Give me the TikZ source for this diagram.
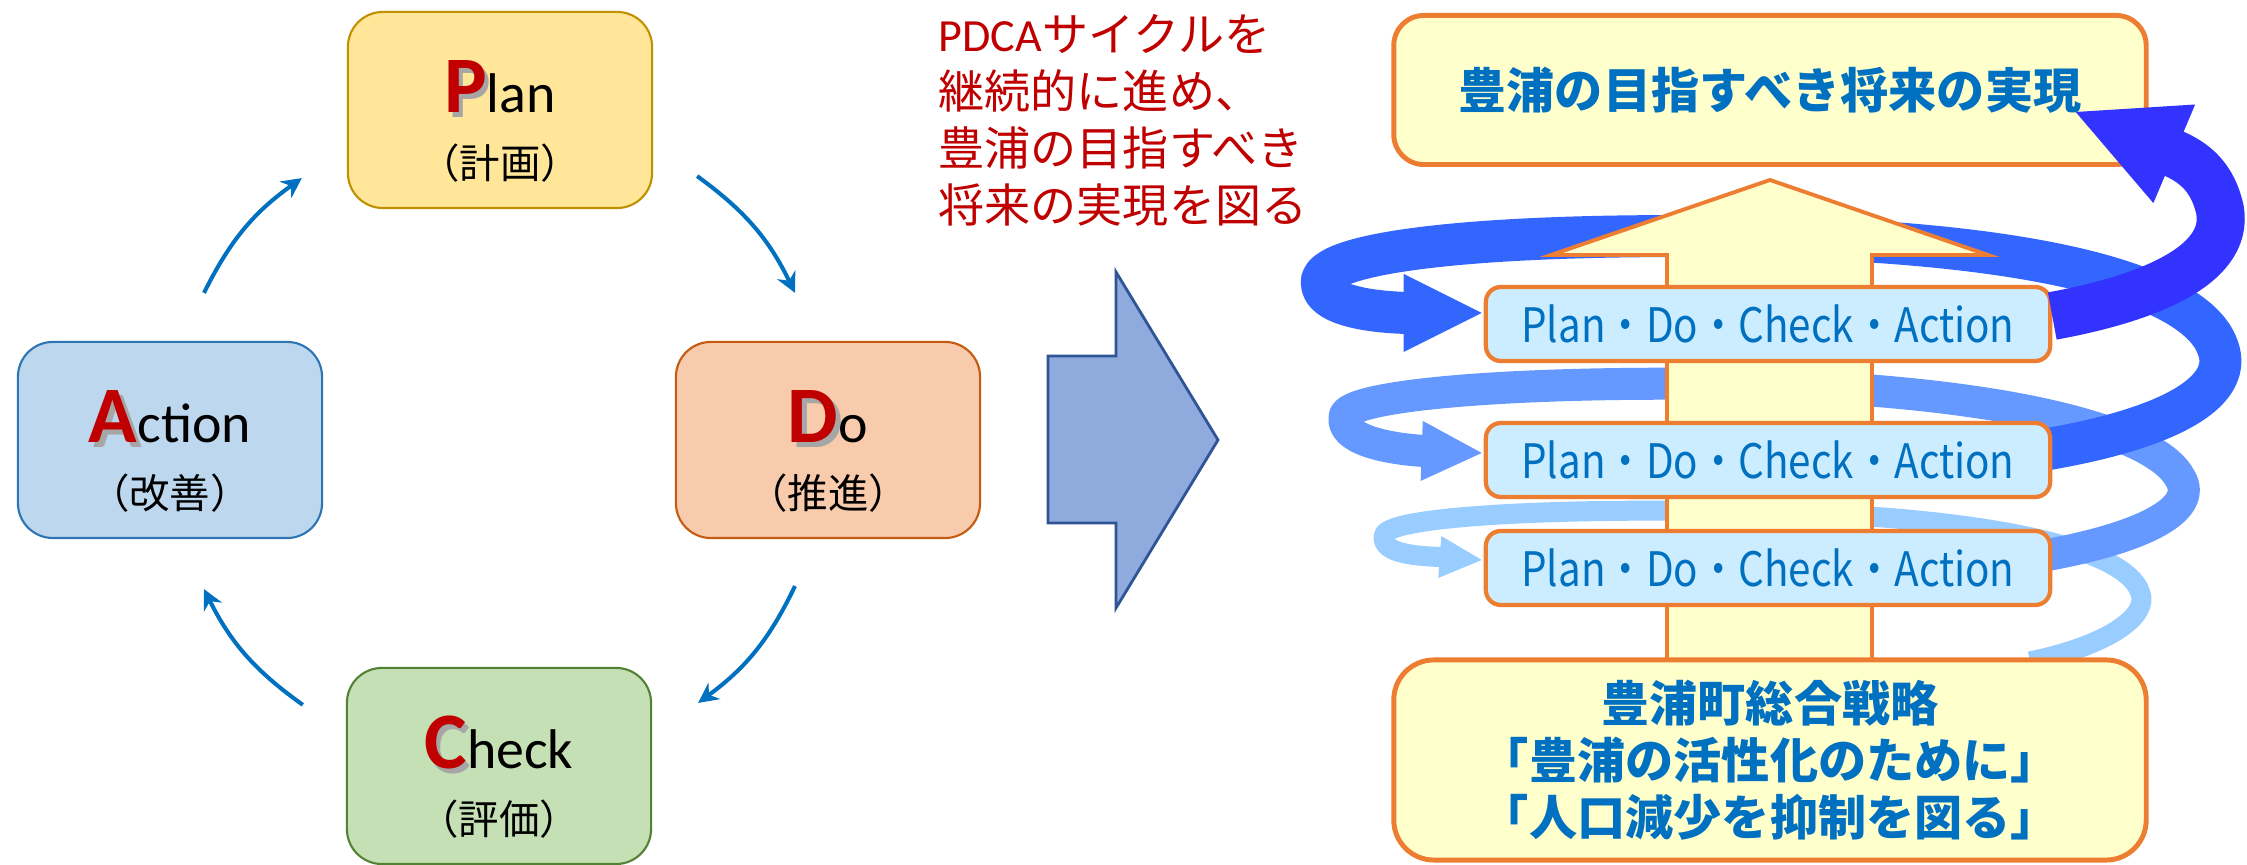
\documentclass[tikz,border=0pt]{standalone}
\usepackage{fontspec}
\setmainfont{Carlito}
\newfontfamily\jp{Noto Sans CJK JP}
\usetikzlibrary{backgrounds,arrows.meta}
\pgfdeclarelayer{coils}
\pgfsetlayers{background,coils,main}
\usepackage{xcolor}
\definecolor{pdred}{HTML}{C00000}
\definecolor{cycblue}{HTML}{0070C0}
\definecolor{planfill}{HTML}{FFE699}
\definecolor{planline}{HTML}{BF9000}
\definecolor{dofill}{HTML}{F8CBAD}
\definecolor{doline}{HTML}{C55A11}
\definecolor{actfill}{HTML}{BDD7EE}
\definecolor{actline}{HTML}{2E75B6}
\definecolor{chkfill}{HTML}{C5E0B4}
\definecolor{chkline}{HTML}{548235}
\definecolor{bigfill}{HTML}{8FAADC}
\definecolor{bigline}{HTML}{2F5597}
\definecolor{cream}{HTML}{FFFFCC}
\definecolor{rim}{HTML}{ED7D31}
\definecolor{pale}{HTML}{CCECFF}
\definecolor{coila}{HTML}{3333FF}
\definecolor{coilb}{HTML}{3366FF}
\definecolor{coilc}{HTML}{6699FF}
\definecolor{coild}{HTML}{99CCFF}
\newcommand{\initial}[1]{{\fontsize{22.8}{24}\selectfont\bfseries\rlap{\kern1.2pt\raisebox{-1.2pt}{\textcolor{black!35}{#1}}}\textcolor{pdred}{#1}}}
\tikzset{
  cycbox/.style={rounded corners=0.35cm, minimum width=3.04cm, minimum height=1.96cm, line width=0.6pt},
  cyc/.style={cycblue, line width=1.15pt, -{Stealth[length=0.2cm, width=0.2cm]}},
  title/.style={anchor=base, inner sep=0pt, font=\fontsize{15.9}{17}\selectfont},
  sub/.style={inner sep=0pt, font=\jp\fontsize{11.5}{13}\selectfont},
  goalbox/.style={draw=rim, fill=cream, line width=1.4pt, rounded corners=0.3cm, minimum width=7.52cm, minimum height=1.49cm, text=cycblue, font=\jp\bfseries\fontsize{13.7}{16.2}\selectfont, align=center},
  pdcabox/.style={draw=rim, fill=pale, line width=1.2pt, rounded corners=0.15cm, minimum width=5.64cm, minimum height=0.74cm, text=cycblue, font=\jp\fontsize{13.5}{14}\selectfont},
  coil/.style n args={3}{draw=#1, line width=#2, line join=round, -{Triangle[length=#3, width=#3, line width=0pt]}},
}
\begin{document}
\begin{tikzpicture}[x=0.01cm, y=-0.01cm, background rectangle/.style={fill=white}, show background rectangle, inner frame sep=0pt]
  \useasboundingbox (0,0) rectangle (2247,865);
  % PDCA cycle
  \node[cycbox, draw=planline, fill=planfill] (plan) at (500,110) {};
  \node[cycbox, draw=doline, fill=dofill] (do) at (828,440) {};
  \node[cycbox, draw=chkline, fill=chkfill] (check) at (499,766) {};
  \node[cycbox, draw=actline, fill=actfill] (action) at (170,440) {};
  \node[title] (plan-t) at ([shift={(0,3)}]plan.center) {\initial{P}lan};
  \node[sub] (plan-s) at ([shift={(0,53)}]plan.center) {（計画）};
  \node[title] (do-t) at ([shift={(0,3)}]do.center) {\initial{D}o};
  \node[sub] (do-s) at ([shift={(0,53)}]do.center) {（推進）};
  \node[title] (check-t) at ([shift={(0,3)}]check.center) {\initial{C}heck};
  \node[sub] (check-s) at ([shift={(0,53)}]check.center) {（評価）};
  \node[title] (action-t) at ([shift={(0,3)}]action.center) {\initial{A}ction};
  \node[sub] (action-s) at ([shift={(0,53)}]action.center) {（改善）};
  \draw[cyc] ([shift={(44,-33)}]plan.south east) to[bend left=14] ([shift={(-33,-48)}]do.north);
  \draw[cyc] ([shift={(-33,47)}]do.south) to[bend left=14] ([shift={(46,36)}]check.north east);
  \draw[cyc] ([shift={(-43,38)}]check.north west) to[bend left=14] ([shift={(34,50)}]action.south);
  \draw[cyc] ([shift={(34,-48)}]action.north) to[bend left=14] ([shift={(-45,-31)}]plan.south west);
  % message and big arrow
  \node[anchor=north west, inner sep=0pt, align=left, text=pdred, font=\jp\fontsize{13.1}{16.2}\selectfont] (aim) at (938,14)
    {{\rmfamily PDCA}サイクルを\\継続的に進め、\\豊浦の目指すべき\\将来の実現を図る};
  \draw[draw=bigline, fill=bigfill, line width=0.8pt] (1048,356) -- (1116,356) -- (1116,272) -- (1218,440)
    -- (1116,608) -- (1116,523) -- (1048,523) -- cycle;
  % rising column
  \draw[draw=rim, fill=cream, line width=1.1pt] (1667,668) -- (1667,255) -- (1551,255) -- (1770,180)
    -- (1988,255) -- (1872,255) -- (1872,668) -- cycle;
  \node[goalbox] (goal) at (1770,90) {豊浦の目指すべき将来の実現};
  \node[pdcabox] (pdca1) at (1768,324) {\scalebox{0.85}[1]{Plan・Do・Check・Action}};
  \node[pdcabox] (pdca2) at (1768,460) {\scalebox{0.85}[1]{Plan・Do・Check・Action}};
  \node[pdcabox] (pdca3) at (1768,568) {\scalebox{0.85}[1]{Plan・Do・Check・Action}};
  \node[goalbox, minimum height=2cm, rounded corners=0.4cm] (base) at (1770,760)
    {豊浦町総合戦略\\「豊浦の活性化のために」\\「人口減少を抑制を図る」};
  % spiral
  \begin{pgfonlayer}{coils}
    \draw[coil={coild}{0.2cm}{0.42cm}] ([shift={(260,4)}]base.north) .. controls (2110,645) and (2150,615) .. (2140,592)
      .. controls (2125,550) and (2000,520) .. (1800,513) .. controls (1580,506) and (1390,515) .. (1384,535)
      .. controls (1380,552) and (1410,556) .. (1440,557) -- ([shift={(-2,-8)}]pdca3.west);
    \draw[coil={coilc}{0.32cm}{0.6cm}] ([shift={(-22,-10)}]pdca3.east) .. controls (2140,540) and (2200,510) .. (2180,478)
      .. controls (2160,440) and (2050,398) .. (1800,386) .. controls (1560,378) and (1355,392) .. (1345,415)
      .. controls (1338,440) and (1390,449) .. (1424,451) -- ([shift={(-2,-7)}]pdca2.west);
    \draw[coil={coilb}{0.42cm}{0.78cm}] ([shift={(-22,-8)}]pdca2.east) .. controls (2160,432) and (2235,395) .. (2218,348)
      .. controls (2200,295) and (2080,248) .. (1800,238) .. controls (1520,230) and (1330,248) .. (1322,280)
      .. controls (1318,305) and (1370,312) .. (1407,313) -- ([shift={(-2,-11)}]pdca1.west);
  \end{pgfonlayer}
  \draw[coil={coila}{0.48cm}{1.07cm}] ([shift={(0,-8)}]pdca1.east) .. controls (2140,300) and (2230,268) .. (2220,210)
    .. controls (2213,178) and (2195,162) .. (2170,152) -- ([shift={(-73,-55)}]goal.south east);
\end{tikzpicture}
\end{document}
